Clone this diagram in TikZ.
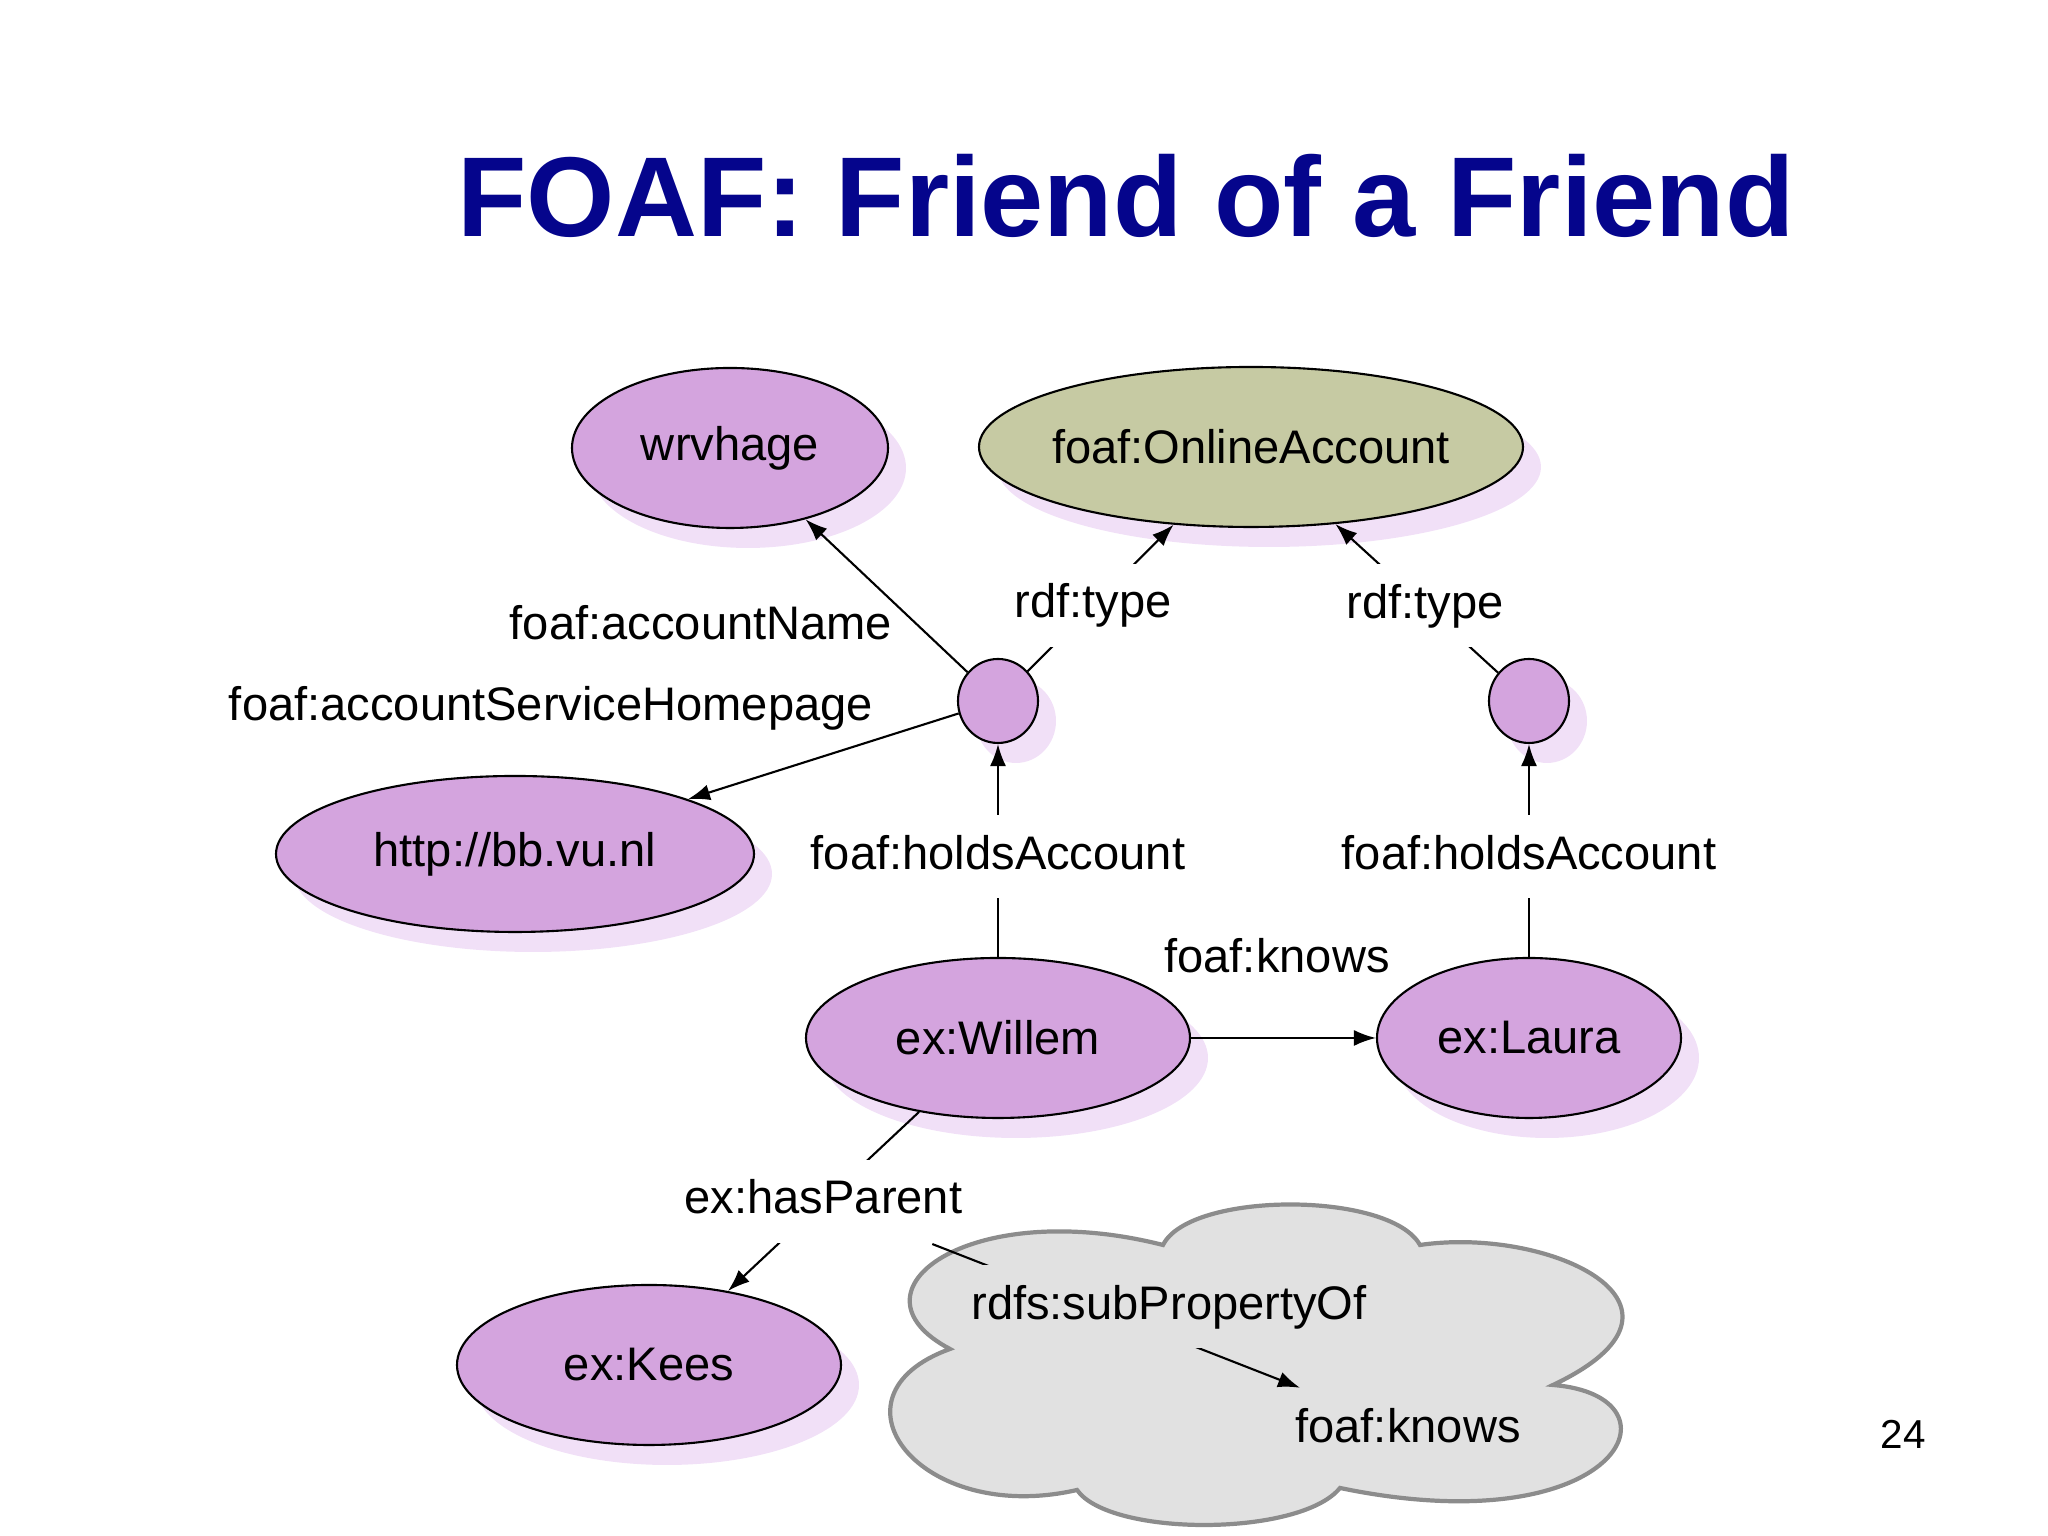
\documentclass[tikz,border=0pt]{standalone}
\usepackage{fontspec}
\setmainfont{Liberation Sans}
\usepackage{xcolor}
\usetikzlibrary{arrows.meta, shapes.geometric, shadows}

\definecolor{nodepurple}{RGB}{212,164,222}
\definecolor{classolive}{RGB}{198,202,163}
\definecolor{shadelilac}{RGB}{241,224,247}
\definecolor{cloudgrey}{RGB}{225,225,225}
\definecolor{cloudline}{RGB}{140,140,140}
\definecolor{titleblue}{RGB}{5,5,140}

\begin{document}
\begin{tikzpicture}[
	res/.style={ellipse, draw, line width=0.6pt, fill=nodepurple, inner sep=0pt, font=\fontsize{13.4}{16}\selectfont, drop shadow={shadow xshift=0.18cm, shadow yshift=-0.2cm, fill=shadelilac, opacity=1}},
	blank/.style={res, minimum width=0.8cm, minimum height=0.84cm},
	lbl/.style={font=\fontsize{13.4}{16}\selectfont, text height=0.35cm, text depth=0.1cm, inner xsep=2pt, inner ysep=0.19cm},
	onedge/.style={lbl, fill=white},
	arr/.style={-{Latex[length=0.22cm, width=0.16cm]}, line width=0.6pt}
	]
	\useasboundingbox (0,0) rectangle (20.48,15.36);
	\node[font=\bfseries\fontsize{32.3}{38}\selectfont, text=titleblue] (title) at (11.26,13.40) {FOAF: Friend of a Friend};
	\draw[cloudline, fill=cloudgrey, line width=1.2pt] (9.50,1.87) .. controls (8.4,2.45) and (9.7,3.4) .. (11.63,2.91) .. controls (11.9,3.45) and (13.9,3.45) .. (14.20,2.91) .. controls (15.5,3.1) and (17.2,2.3) .. (15.53,1.51) .. controls (16.9,1.4) and (16.2,-0.1) .. (13.40,0.48) .. controls (13.0,-0.01) and (11.1,-0.01) .. (10.77,0.46) .. controls (9.2,0.1) and (8.2,1.4) .. cycle;

	\node[res, minimum width=3.16cm, minimum height=1.6cm] (wrv) at (7.30,10.88) {wrvhage};
	\node[res, fill=classolive, minimum width=5.44cm, minimum height=1.6cm, inner xsep=-0.2cm] (acct) at (12.51,10.89) {foaf:OnlineAccount};
	\node[blank] (b1) at (9.98,8.35) {};
	\node[blank] (b2) at (15.29,8.35) {};
	\node[res, minimum width=4.78cm, minimum height=1.56cm] (home) at (5.15,6.82) {http://bb.vu.nl};
	\node[res, minimum width=3.84cm, minimum height=1.6cm] (willem) at (9.98,4.98) {ex:Willem};
	\node[res, minimum width=3.04cm, minimum height=1.6cm] (laura) at (15.29,4.98) {ex:Laura};
	\node[res, minimum width=3.84cm, minimum height=1.6cm] (kees) at (6.49,1.71) {ex:Kees};

	\node[lbl] (aname) at (7.01,9.09) {foaf:accountName};
	\node[lbl] (ahome) at (5.51,8.28) {foaf:accountServiceHomepage};
	\node[lbl] (kn) at (12.77,5.76) {foaf:knows};
	\node[lbl] (fk) at (14.08,1.06) {foaf:knows};
	\node[font=\fontsize{11.5}{14}\selectfont] (pg) at (19.03,1.02) {24};

	\draw[arr] (b1) -- (wrv);
	\draw[arr] (b1) -- node[onedge, pos=0.45] {rdf:type} (acct);
	\draw[arr] (b1) -- (home);
	\draw[arr] (b2) -- node[onedge, pos=0.45] {rdf:type} (acct);
	\draw[arr] (willem) -- node[onedge, pos=0.47] {foaf:holdsAccount} (b1);
	\draw[arr] (laura) -- node[onedge, pos=0.47] {foaf:holdsAccount} (b2);
	\draw[arr] (willem) -- (laura);
	\draw[arr] (willem) -- node[onedge] (hp) {ex:hasParent} (kees);
	\draw[arr] (hp) -- (fk);
	\node[onedge, fill=cloudgrey] (sp) at (11.69,2.29) {rdfs:subPropertyOf};
\end{tikzpicture}
\end{document}
